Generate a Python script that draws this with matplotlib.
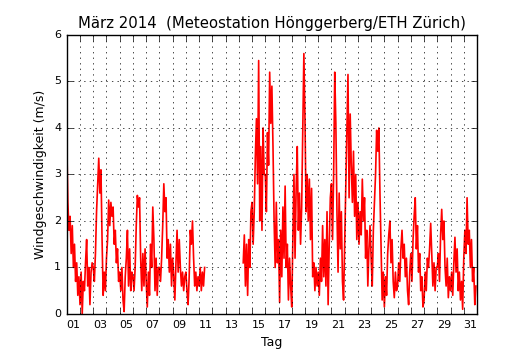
import numpy as np
import matplotlib
matplotlib.use("Agg")
import matplotlib.pyplot as plt

# Windgeschwindigkeit (m/s), alle 2 Stunden, Tag fuer Tag (Maerz 2014)
nan = np.nan
tage = {
    1: [3.7, 2.4, 1.8, 2.1, 1.3, 1.9, 1.0, 1.5, 0.7, 1.1, 0.4, 0.8],
    2: [0.2, 0.9, 0.0, 0.7, 0.5, 1.1, 1.6, 0.6, 1.0, 0.2, 0.9, 1.1],
    3: [1.0, 0.7, 1.3, 2.2, 2.8, 3.35, 2.6, 3.1, 1.6, 0.4, 0.9, 0.5],
    4: [1.2, 1.6, 2.45, 1.9, 2.4, 2.1, 2.3, 1.5, 1.8, 1.1, 1.4, 0.7],
    5: [0.9, 0.5, 1.0, 0.3, 0.05, 0.8, 1.2, 1.8, 0.6, 1.4, 0.5, 0.9],
    6: [0.8, 0.5, 1.0, 1.9, 2.55, 2.3, 2.5, 1.2, 0.5, 1.3, 0.6, 1.4],
    7: [0.7, 0.15, 0.9, 0.4, 1.5, 1.0, 2.3, 1.6, 0.5, 1.2, 0.4, 1.0],
    8: [1.0, 0.7, 1.2, 1.9, 2.8, 2.2, 2.5, 1.2, 1.6, 0.9, 1.5, 0.6],
    9: [1.2, 0.8, 0.3, 1.1, 1.8, 0.9, 1.6, 1.0, 0.6, 0.9, 0.5, 0.8],
    10: [0.9, 0.5, 0.2, 0.8, 1.8, 1.5, 2.0, 1.2, 0.6, 0.9, 0.5, 0.8],
    11: [0.6, 1.0, 0.5, 0.9, 0.6, 1.0, nan, nan, nan, nan, nan, nan],
    12: [nan] * 12,
    13: [nan] * 12,
    14: [nan, nan, nan, nan, 1.1, 1.7, 0.6, 1.5, 0.4, 1.6, 1.0, 2.2],
    15: [2.4, 1.5, 2.2, 3.4, 4.2, 2.8, 5.45, 2.0, 3.6, 1.8, 4.0, 3.0],
    16: [3.0, 2.2, 3.9, 3.2, 5.2, 4.1, 4.9, 3.6, 2.0, 1.0, 2.4, 1.1],
    17: [1.6, 0.25, 1.8, 0.8, 2.3, 1.2, 2.75, 1.0, 1.5, 0.3, 1.2, 0.6],
    18: [0.15, 1.6, 3.0, 1.2, 2.7, 3.6, 1.8, 2.6, 1.5, 2.3, 4.0, 5.6],
    19: [4.2, 2.2, 3.0, 2.0, 2.9, 1.6, 2.7, 0.8, 1.1, 0.5, 1.0, 0.6],
    20: [0.9, 0.4, 1.2, 0.7, 1.9, 0.8, 1.6, 0.6, 2.2, 0.2, 1.5, 2.5],
    21: [2.8, 1.6, 3.0, 5.2, 4.1, 2.2, 0.9, 2.6, 1.4, 2.2, 0.7, 0.3],
    22: [1.5, 2.6, 3.8, 5.15, 2.5, 4.3, 3.2, 2.4, 3.5, 2.1, 3.0, 1.6],
    23: [2.4, 1.5, 2.2, 1.7, 2.9, 2.0, 2.5, 1.2, 1.8, 0.6, 1.4, 1.9],
    24: [1.2, 0.6, 1.8, 2.4, 3.0, 3.95, 3.5, 4.0, 2.6, 1.4, 0.3, 0.9],
    25: [0.15, 0.8, 0.4, 1.3, 1.7, 2.0, 1.1, 1.6, 0.7, 0.35, 0.9, 0.5],
    26: [0.6, 1.1, 0.7, 1.4, 1.8, 1.2, 1.5, 0.8, 1.2, 0.5, 0.2, 0.9],
    27: [1.3, 0.7, 1.6, 2.1, 2.5, 1.4, 1.9, 0.9, 1.3, 0.5, 0.8, 0.15],
    28: [0.3, 0.9, 0.5, 1.2, 1.0, 1.4, 1.95, 1.3, 0.6, 1.1, 0.5, 1.0],
    29: [1.0, 1.3, 0.7, 1.7, 2.25, 1.6, 2.0, 1.0, 0.6, 1.2, 0.35, 0.8],
    30: [0.5, 0.9, 0.4, 1.1, 1.65, 0.9, 1.4, 0.5, 0.9, 0.3, 0.7, 0.1],
    31: [1.2, 1.8, 1.3, 2.5, 1.5, 1.8, 1.0, 1.6, 0.7, 1.0, 0.2, 0.6],
}

wind = np.concatenate([tage[d] for d in sorted(tage)])
zeit = np.arange(len(wind)) * 2 / 24.0   # Tage seit 1. Maerz 00:00

label_tage = list(range(1, 32, 2))
tag_labels = ['%02d' % d for d in label_tage]

plt.style.use('classic')
fig = plt.figure(figsize=(5.3, 3.5), dpi=100)
ax = fig.add_subplot(111)
fig.subplots_adjust(left=0.126, right=0.9, bottom=0.103, top=0.9)

ax.plot(zeit, wind, color='red', lw=1.2)

ax.set_xlim(0, 31)
ax.set_ylim(0, 6)
# Striche/Gitter um Mitternacht, Beschriftung jeweils am Mittag
ax.set_xticks(np.arange(32))
ax.set_xticklabels([])
ax.set_xticks(np.array(label_tage) - 0.5, minor=True)
ax.set_xticklabels(tag_labels, minor=True)
ax.tick_params(axis='x', which='minor', length=0)
ax.set_yticks(range(7))
ax.tick_params(which='both', labelsize=8)
ax.grid(True, which='major')
ax.set_xlabel('Tag', fontsize=9)
ax.set_ylabel('Windgeschwindigkeit (m/s)', fontsize=9)
ax.set_title('März 2014  (Meteostation Hönggerberg/ETH Zürich)', fontsize=10.7)

fig.savefig('out.png', dpi=100)
